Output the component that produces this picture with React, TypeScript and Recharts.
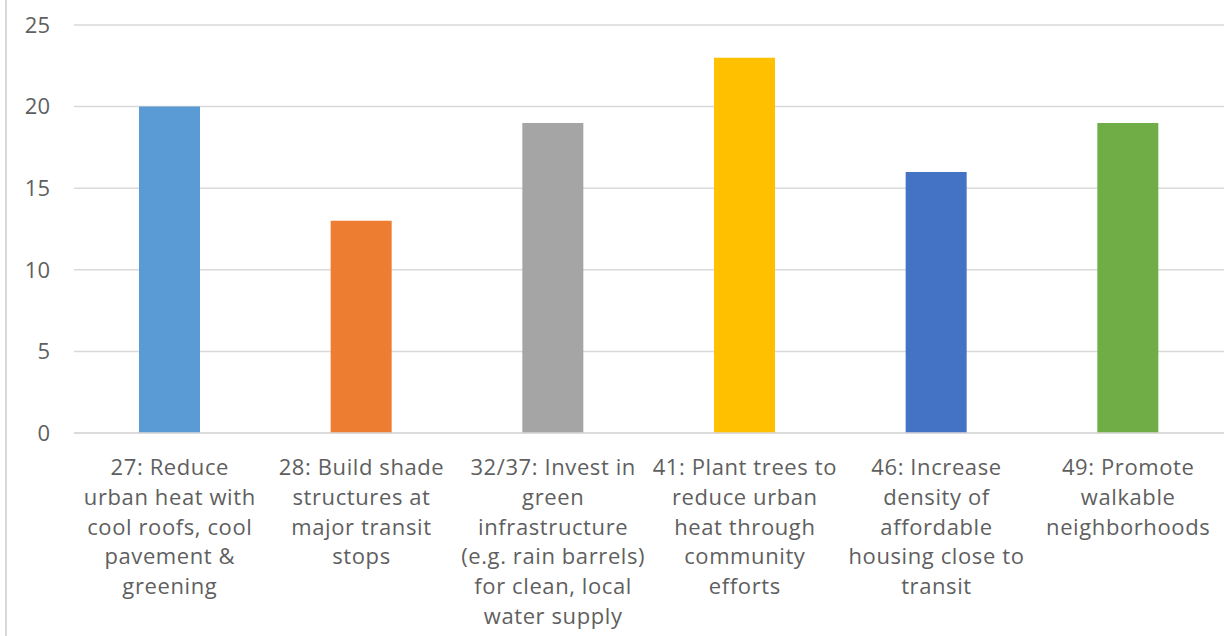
import { Bar, BarChart, CartesianGrid, Cell, XAxis, YAxis } from "recharts"

const categories = [
  "27: Reduce\nurban heat with\ncool roofs, cool\npavement &\ngreening",
  "28: Build shade\nstructures at\nmajor transit\nstops",
  "32/37: Invest in\ngreen\ninfrastructure\n(e.g. rain barrels)\nfor clean, local\nwater supply",
  "41: Plant trees to\nreduce urban\nheat through\ncommunity\nefforts",
  "46: Increase\ndensity of\naffordable\nhousing close to\ntransit",
  "49: Promote\nwalkable\nneighborhoods",
]
const votes = [20, 13, 19, 23, 16, 19]
const colors = ["#5B9BD5", "#ED7D31", "#A5A5A5", "#FFC000", "#4472C4", "#70AD47"]
const yTicks = [0, 5, 10, 15, 20, 25]

const chartData = categories.map((name, i) => ({ name, votes: votes[i] }))

const FONT = "'Open Sans', sans-serif"

const CategoryTick = ({ x, y, payload }: any) => {
  const lines = String(payload.value).split("\n")
  return (
    <text x={x} y={y} textAnchor="middle" fill="#5f5f5f" fontSize={22} letterSpacing={0.6} fontFamily={FONT}>
      {lines.map((line, i) => (
        <tspan key={i} x={x} dy={i === 0 ? 34 : 29.8}>
          {line}
        </tspan>
      ))}
    </text>
  )
}

export default function App() {
  return (
    <div style={{ position: "absolute", left: 0, top: 0, width: 1225, height: 636, background: "#fff" }}>
      <div style={{ position: "absolute", left: 5, top: 0, width: 2, height: 636, background: "#D9D9D9" }} />
      <BarChart
        width={1225}
        height={636}
        data={chartData}
        margin={{ top: 25, right: 1, bottom: 0, left: 0 }}
        barSize={61}
      >
        <CartesianGrid vertical={false} stroke="#D9D9D9" strokeWidth={1.5} />
        <XAxis
          dataKey="name"
          interval={0}
          height={203}
          tickLine={false}
          axisLine={{ stroke: "#D9D9D9", strokeWidth: 1.5 }}
          tick={<CategoryTick />}
        />
        <YAxis
          domain={[0, 25]}
          ticks={yTicks}
          width={74}
          tickLine={false}
          axisLine={false}
          tickMargin={18}
          tick={{ fill: "#5f5f5f", fontSize: 22, fontFamily: FONT }}
        />
        <Bar dataKey="votes" isAnimationActive={false}>
          {chartData.map((_, i) => (
            <Cell key={i} fill={colors[i]} />
          ))}
        </Bar>
      </BarChart>
    </div>
  )
}
